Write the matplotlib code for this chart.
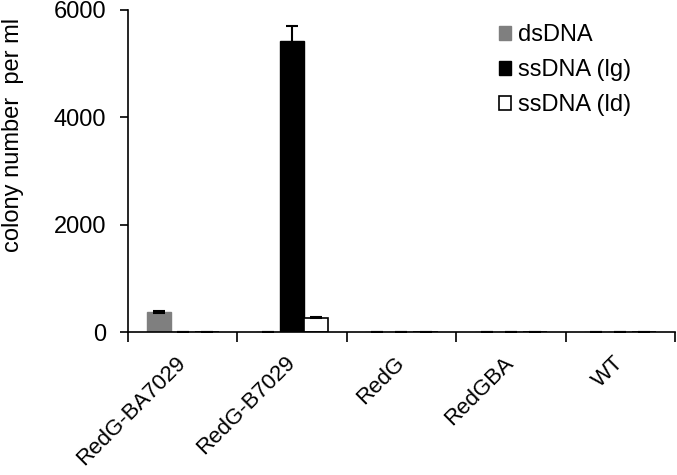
import numpy as np
import matplotlib.pyplot as plt

plt.rcParams['font.family'] = ['Liberation Sans', 'DejaVu Sans']

strains = ['RedG-BA7029', 'RedG-B7029', 'RedG', 'RedGBA', 'WT']
ds_dna = [370, 3, 0, 0, 0]
ds_err = [20, 0, 0, 0, 0]
ss_lg = [5, 5420, 0, 0, 0]
ss_lg_err = [0, 280, 0, 0, 0]
ss_ld = [5, 270, 0, 0, 0]
ss_ld_err = [0, 15, 0, 0, 0]

fig = plt.figure(figsize=(6.77, 4.75), dpi=100)
ax = fig.add_axes([0.189, 0.301, 0.808, 0.678])

x = np.arange(len(strains))
w = 0.22
ekw = dict(elinewidth=1.5, capthick=1.5)
ax.bar(x - w, ds_dna, w, yerr=ds_err, color='#7f7f7f', edgecolor='#7f7f7f',
       capsize=4.5, error_kw=ekw, label='dsDNA')
ax.bar(x, ss_lg, w, yerr=ss_lg_err, color='black', edgecolor='black',
       capsize=4.5, error_kw=ekw, label='ssDNA (lg)')
ax.bar(x + w, ss_ld, w, yerr=ss_ld_err, color='white', edgecolor='black',
       linewidth=1.2, capsize=4.5, error_kw=ekw, label='ssDNA (ld)')

ax.set_xlim(-0.5, len(strains) - 0.5)
ax.set_ylim(0, 6000)
ax.set_yticks([0, 2000, 4000, 6000])
ax.set_xticks(x)
ax.set_xticklabels(strains, rotation=45, ha='right', va='center',
                   rotation_mode='anchor', fontsize=16)
ax.tick_params(axis='x', length=0, pad=20)
ax.set_xticks(np.arange(len(strains) + 1) - 0.5, minor=True)
ax.tick_params(axis='x', which='minor', length=7, width=1.2, direction='out')
ax.tick_params(axis='y', labelsize=17, length=5.5, width=1.2, direction='out', pad=10)
ax.set_ylabel('colony number  per ml', fontsize=17)
ax.yaxis.set_label_coords(-0.19, 0.612)

for s in ['top', 'right']:
    ax.spines[s].set_visible(False)
for s in ['left', 'bottom']:
    ax.spines[s].set_linewidth(1.2)

ax.legend(loc='upper left', bbox_to_anchor=(0.737, 0.949), bbox_transform=fig.transFigure,
          frameon=False, fontsize=17, borderpad=0, borderaxespad=0,
          handlelength=0.52, handleheight=0.52, handletextpad=0.28, labelspacing=0.55)

fig.savefig('out.png', dpi=100)
